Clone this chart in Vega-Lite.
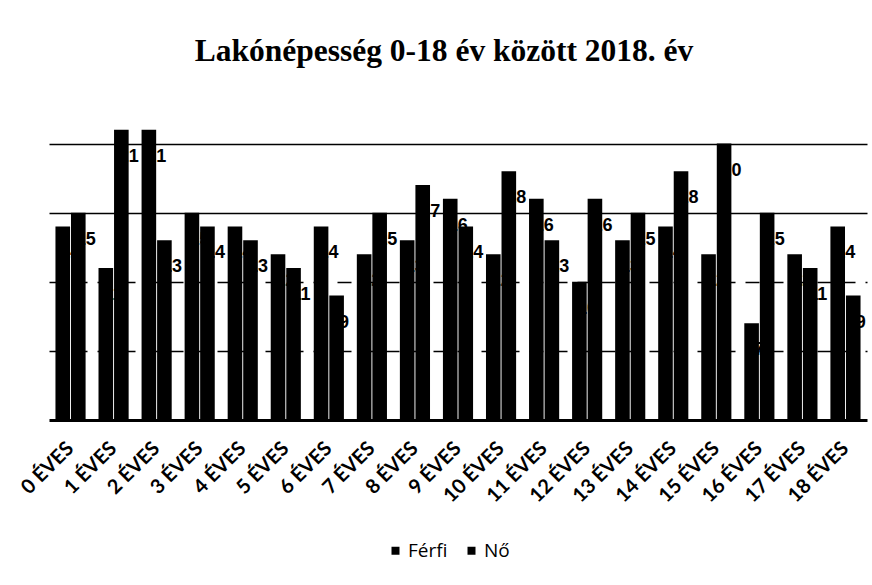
{
  "$schema": "https://vega.github.io/schema/vega-lite/v6.json",
  "width": 818,
  "height": 311,
  "autosize": {"type": "none"},
  "padding": {"left": 49, "top": 109, "right": 5, "bottom": 165},
  "background": "white",
  "title": {
    "text": "Lakónépesség 0-18 év között 2018. év",
    "font": "Liberation Serif",
    "fontSize": 31.5,
    "fontWeight": "bold",
    "color": "black",
    "anchor": "middle",
    "baseline": "alphabetic",
    "offset": 17,
    "dx": -14
  },
  "data": {
    "values": [
      {"kor": "0 ÉVES", "nem": "Férfi", "fo": 14}, {"kor": "0 ÉVES", "nem": "Nő", "fo": 15},
      {"kor": "1 ÉVES", "nem": "Férfi", "fo": 11}, {"kor": "1 ÉVES", "nem": "Nő", "fo": 21},
      {"kor": "2 ÉVES", "nem": "Férfi", "fo": 21}, {"kor": "2 ÉVES", "nem": "Nő", "fo": 13},
      {"kor": "3 ÉVES", "nem": "Férfi", "fo": 15}, {"kor": "3 ÉVES", "nem": "Nő", "fo": 14},
      {"kor": "4 ÉVES", "nem": "Férfi", "fo": 14}, {"kor": "4 ÉVES", "nem": "Nő", "fo": 13},
      {"kor": "5 ÉVES", "nem": "Férfi", "fo": 12}, {"kor": "5 ÉVES", "nem": "Nő", "fo": 11},
      {"kor": "6 ÉVES", "nem": "Férfi", "fo": 14}, {"kor": "6 ÉVES", "nem": "Nő", "fo": 9},
      {"kor": "7 ÉVES", "nem": "Férfi", "fo": 12}, {"kor": "7 ÉVES", "nem": "Nő", "fo": 15},
      {"kor": "8 ÉVES", "nem": "Férfi", "fo": 13}, {"kor": "8 ÉVES", "nem": "Nő", "fo": 17},
      {"kor": "9 ÉVES", "nem": "Férfi", "fo": 16}, {"kor": "9 ÉVES", "nem": "Nő", "fo": 14},
      {"kor": "10 ÉVES", "nem": "Férfi", "fo": 12}, {"kor": "10 ÉVES", "nem": "Nő", "fo": 18},
      {"kor": "11 ÉVES", "nem": "Férfi", "fo": 16}, {"kor": "11 ÉVES", "nem": "Nő", "fo": 13},
      {"kor": "12 ÉVES", "nem": "Férfi", "fo": 10}, {"kor": "12 ÉVES", "nem": "Nő", "fo": 16},
      {"kor": "13 ÉVES", "nem": "Férfi", "fo": 13}, {"kor": "13 ÉVES", "nem": "Nő", "fo": 15},
      {"kor": "14 ÉVES", "nem": "Férfi", "fo": 14}, {"kor": "14 ÉVES", "nem": "Nő", "fo": 18},
      {"kor": "15 ÉVES", "nem": "Férfi", "fo": 12}, {"kor": "15 ÉVES", "nem": "Nő", "fo": 20},
      {"kor": "16 ÉVES", "nem": "Férfi", "fo": 7}, {"kor": "16 ÉVES", "nem": "Nő", "fo": 15},
      {"kor": "17 ÉVES", "nem": "Férfi", "fo": 12}, {"kor": "17 ÉVES", "nem": "Nő", "fo": 11},
      {"kor": "18 ÉVES", "nem": "Férfi", "fo": 14}, {"kor": "18 ÉVES", "nem": "Nő", "fo": 9}
    ]
  },
  "encoding": {
    "x": {
      "field": "kor",
      "type": "nominal",
      "sort": null,
      "title": null,
      "scale": {"paddingInner": 0.3, "paddingOuter": 0.15},
      "axis": {
        "labelAngle": -45,
        "labelAlign": "right",
        "labelBaseline": "middle",
        "labelFont": "Lato",
        "labelFontWeight": "bold",
        "labelFontSize": 20,
        "labelColor": "black",
        "labelPadding": 25,
        "ticks": false,
        "domainColor": "black",
        "domainWidth": 3,
        "grid": false
      }
    },
    "xOffset": {
      "field": "nem",
      "type": "nominal",
      "sort": ["Férfi", "Nő"],
      "scale": {"paddingInner": 0.06, "paddingOuter": 0}
    },
    "y": {
      "field": "fo",
      "type": "quantitative",
      "title": null,
      "scale": {"domain": [0, 22.5], "nice": false, "zero": true},
      "axis": {
        "values": [5, 10, 15, 20],
        "labels": false,
        "ticks": false,
        "domain": false,
        "grid": true,
        "gridColor": "black",
        "gridWidth": 1.6,
        "gridDash": {"condition": {"test": "datum.value <= 10", "value": [14, 10]}, "value": []},
        "gridOpacity": 1
      }
    }
  },
  "layer": [
    {
      "mark": {"type": "bar"},
      "encoding": {
        "color": {
          "field": "nem",
          "type": "nominal",
          "sort": ["Férfi", "Nő"],
          "scale": {"domain": ["Férfi", "Nő"], "range": ["black", "black"]},
          "legend": {
            "title": null,
            "orient": "none",
            "legendX": 337,
            "legendY": 432,
            "direction": "horizontal",
            "symbolType": "square",
            "symbolSize": 64,
            "symbolStrokeWidth": 0,
            "symbolOpacity": 1,
            "labelFont": "Open Sans",
            "labelFontSize": 19,
            "labelColor": "black",
            "labelOffset": 3,
            "columnPadding": 14
          }
        }
      }
    },
    {
      "mark": {
        "type": "text",
        "font": "Liberation Sans",
        "fontWeight": "bold",
        "fontSize": 18,
        "color": "black",
        "align": "center",
        "baseline": "middle",
        "dx": 7.5,
        "dy": 27
      },
      "encoding": {
        "text": {"field": "fo", "type": "quantitative"}
      }
    }
  ],
  "config": {
    "view": {"stroke": null}
  }
}
